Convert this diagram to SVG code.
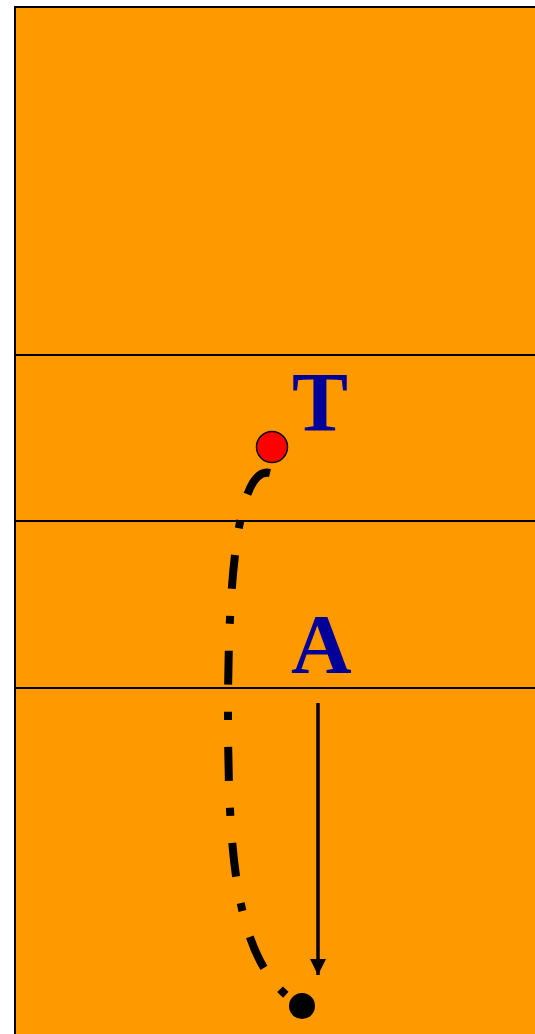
<svg xmlns="http://www.w3.org/2000/svg" width="535" height="1034" viewBox="0 0 535 1034">
<style>
.court{fill:#FF9900;stroke:#000;stroke-width:2}
.ln{stroke:#000;stroke-width:2}
.lbl{font-family:"Liberation Serif",serif;font-weight:bold;fill:#000099;font-size:84px}
</style>
<defs>
<marker id="ah" viewBox="0 0 16 16" refX="16" refY="8" markerWidth="16" markerHeight="16" markerUnits="userSpaceOnUse" orient="auto">
<path d="M0,0 L16,8 L0,16 Z" fill="#000"/>
</marker>
</defs>
<g id="court">
<rect class="court" x="15" y="7" width="530" height="1040"/>
<line class="ln" x1="15" y1="355" x2="535" y2="355"/>
<line class="ln" x1="15" y1="521" x2="535" y2="521"/>
<line class="ln" x1="15" y1="688" x2="535" y2="688"/>
</g>
<g id="connectors">
<path d="M270,473 C238,465 228,580 228,710 C228,850 235,950 286,995" fill="none" stroke="#000" stroke-width="8" stroke-dasharray="34 27 8 27"/>
<line x1="318" y1="703" x2="318" y2="975" stroke="#000" stroke-width="3.5" marker-end="url(#ah)"/>
</g>
<g id="nodeT">
<circle cx="272" cy="447" r="15.5" fill="#FF0000" stroke="#000" stroke-width="1.5"/>
<text class="lbl" x="292" y="431">T</text>
</g>
<g id="nodeA">
<text class="lbl" x="291" y="673">A</text>
</g>
<g id="ball">
<circle cx="302" cy="1006" r="13" fill="#000"/>
</g>
</svg>
